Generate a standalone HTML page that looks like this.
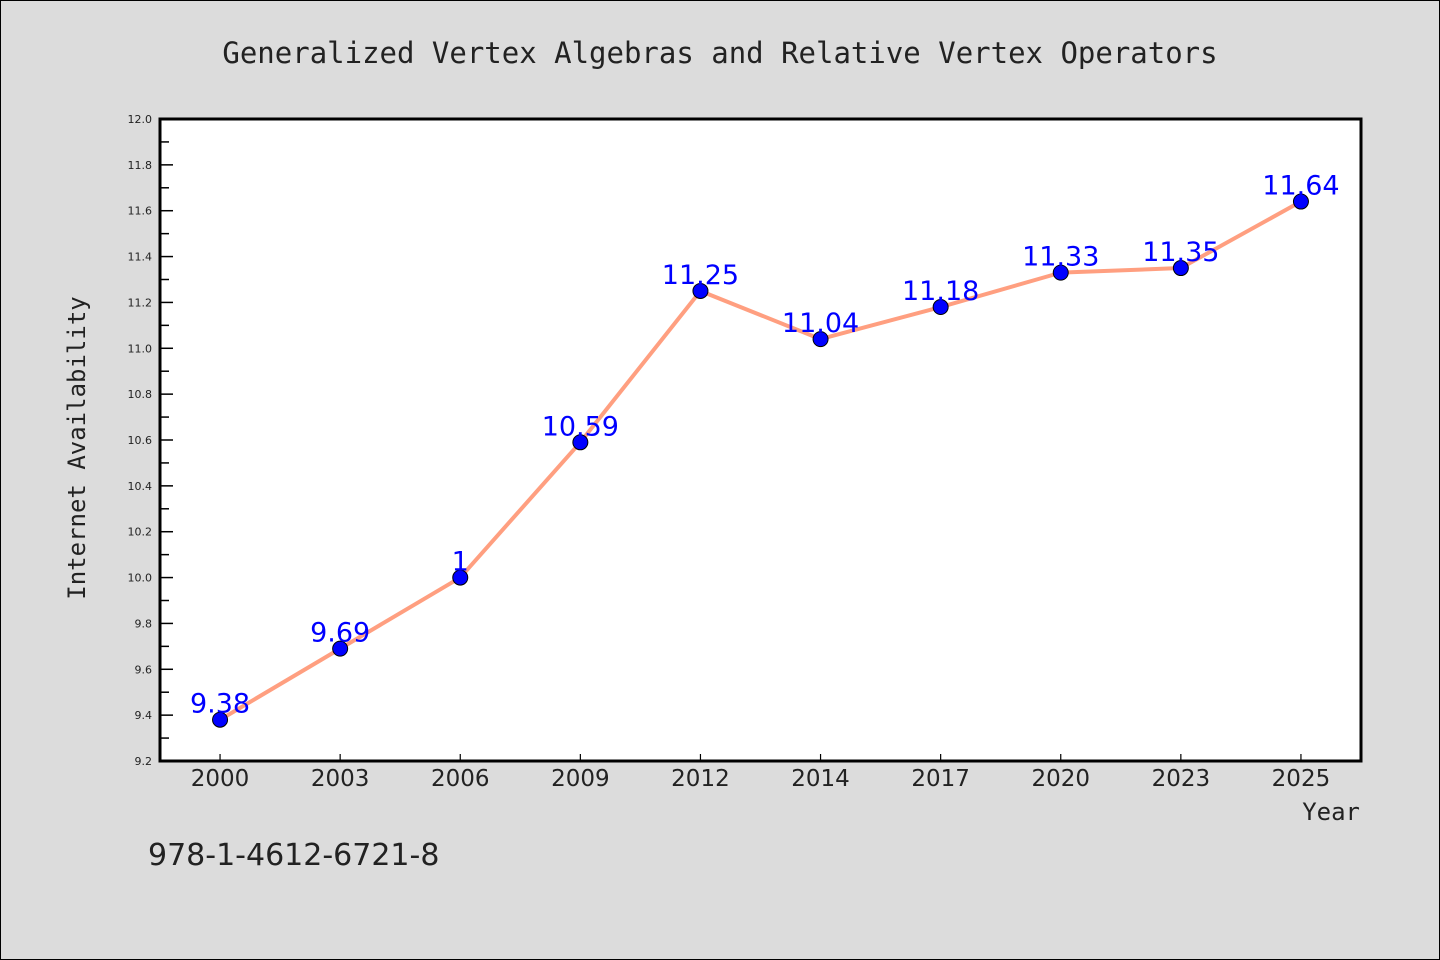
<!DOCTYPE html>
<html><head><meta charset="utf-8"><style>
html,body{margin:0;padding:0;background:#dcdcdc;}
svg{display:block;}
</style></head><body>
<svg width="1440" height="960" viewBox="0 0 1440 960" xmlns="http://www.w3.org/2000/svg">
<rect x="0.5" y="0.5" width="1439" height="959" fill="#dcdcdc" stroke="#000" stroke-width="1"/>
<text x="720" y="63" text-anchor="middle" font-family="DejaVu Sans Mono, Liberation Mono, monospace" font-size="29" fill="#222">Generalized Vertex Algebras and Relative Vertex Operators</text>
<rect x="160" y="119" width="1201" height="642" fill="#fff"/>
<g id="yaxis"></g>
<g id="xaxis"></g>
<g id="series"></g>
<rect x="160" y="119" width="1201" height="642" fill="none" stroke="#000" stroke-width="3"/>
<text transform="translate(85,448) rotate(-90)" text-anchor="middle" font-family="DejaVu Sans Mono, Liberation Mono, monospace" font-size="24" fill="#222">Internet Availability</text>
<text x="1360" y="820" text-anchor="end" font-family="DejaVu Sans Mono, Liberation Mono, monospace" font-size="24" fill="#222">Year</text>
<text x="148" y="865" font-family="DejaVu Sans, Liberation Sans, sans-serif" font-size="30" fill="#222">978-1-4612-6721-8</text>
</svg>
<script>
const categories = ["2000","2003","2006","2009","2012","2014","2017","2020","2023","2025"];
const values = [9.38, 9.69, 10.0, 10.59, 11.25, 11.04, 11.18, 11.33, 11.35, 11.64];
const valueLabels = ["9.38","9.69","1","10.59","11.25","11.04","11.18","11.33","11.35","11.64"];
const yTicks = ["9.2","9.4","9.6","9.8","10.0","10.2","10.4","10.6","10.8","11.0","11.2","11.4","11.6","11.8","12.0"];

const NS = "http://www.w3.org/2000/svg";
const L = 160, R = 1361, T = 119, B = 761, yMin = 9.2, yMax = 12.0;
const y = v => B - (v - yMin) / (yMax - yMin) * (B - T);
const step = (R - L) / categories.length;
const x = i => L + step * (i + 0.5);
function mk(tag, attrs, parent) { const e = document.createElementNS(NS, tag); for (const k in attrs) e.setAttribute(k, attrs[k]); parent.appendChild(e); return e; }

const ya = document.getElementById("yaxis");
yTicks.forEach((t, i) => {
  const v = parseFloat(t), yy = y(v);
  const tk = mk("line", {x1: L, x2: L + 13, y1: yy, y2: yy, stroke: "#000", "stroke-width": 1.5}, ya);
  
  
  const lb = mk("text", {x: 152, y: yy + 4, "text-anchor": "end", "font-family": "DejaVu Sans, Liberation Sans, sans-serif", "font-size": 11, fill: "#222"}, ya);
  lb.textContent = t;
  
  
  if (i < yTicks.length - 1) {
    const ym = y(v + 0.1);
    const mt = mk("line", {x1: L, x2: L + 9, y1: ym, y2: ym, stroke: "#000", "stroke-width": 1.5}, ya);
    
    
  }
});

const xa = document.getElementById("xaxis");
categories.forEach((c, i) => {
  const xx = x(i);
  const tk = mk("line", {x1: xx, x2: xx, y1: B, y2: B - 7, stroke: "#000", "stroke-width": 1.2}, xa);
  
  
  const lb = mk("text", {x: xx, y: 786, "text-anchor": "middle", "font-family": "DejaVu Sans, Liberation Sans, sans-serif", "font-size": 23, fill: "#222"}, xa);
  lb.textContent = c;
  
  
});

const s = document.getElementById("series");
const pts = values.map((v, i) => x(i) + "," + y(v)).join(" ");
const line = mk("polyline", {points: pts, fill: "none", stroke: "#ff9f80", "stroke-width": 4, "stroke-linejoin": "round"}, s);


values.forEach((v, i) => {
  const c = mk("circle", {cx: x(i), cy: y(v), r: 7.5, fill: "#0000ff", stroke: "#000", "stroke-width": 1}, s);
  
  
  const t = mk("text", {x: x(i), y: y(v) - 7, "text-anchor": "middle", "font-family": "DejaVu Sans, Liberation Sans, sans-serif", "font-size": 27, fill: "#0000ff"}, s);
  t.textContent = valueLabels[i];
  
  
});
</script>
</body></html>
